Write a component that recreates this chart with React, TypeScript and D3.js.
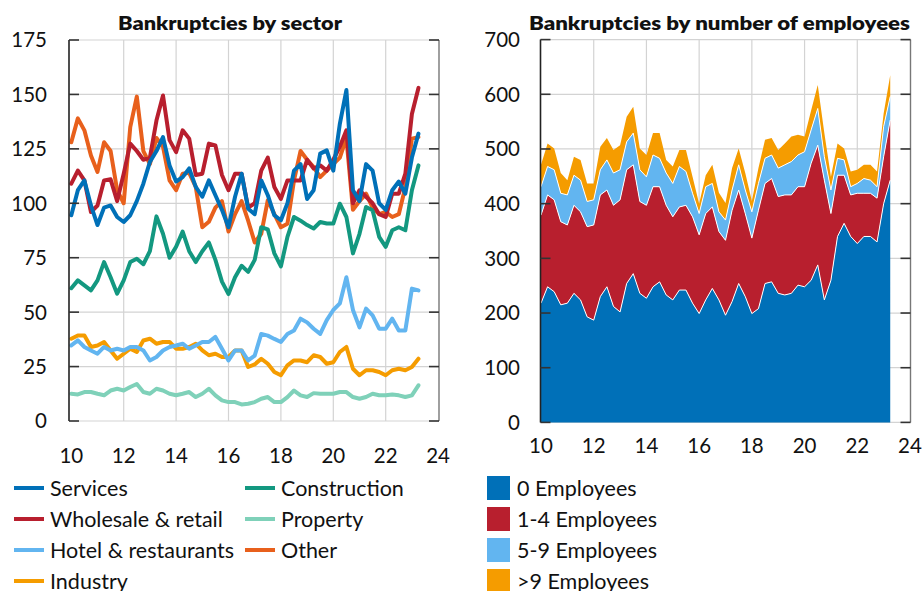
import React from 'react';
import * as d3 from 'd3';

// Quarterly dates (years since 2000)
const quarters = [
  10, 10.25, 10.5, 10.75, 11, 11.25, 11.5, 11.75, 12, 12.25, 12.5, 12.75,
  13, 13.25, 13.5, 13.75, 14, 14.25, 14.5, 14.75, 15, 15.25, 15.5, 15.75,
  16, 16.25, 16.5, 16.75, 17, 17.25, 17.5, 17.75, 18, 18.25, 18.5, 18.75,
  19, 19.25, 19.5, 19.75, 20, 20.25, 20.5, 20.75, 21, 21.25, 21.5, 21.75,
  22, 22.25, 22.5, 22.75, 23, 23.25,
];

// Left chart: bankruptcies by sector
const services = [94.5,106,110.5,99,90,98,99,93.7,91.4,94.5,101,109,119,124,130.4,117.4,110,112,116,107.5,103,110.5,103.7,97,89,103,113.6,97.5,95,110.5,103.7,94.5,92.2,100,115,118,102,106,122.8,124.3,115,136.5,152,106,101,118,115,100,97,106,110,104.4,121,132];
const wholesale = [109,115,110.5,96,99,110.5,111,101,113.6,127.4,124,120,121,138,149.5,129,123.5,133.5,129.7,113,113.6,127.4,126.6,113,106,113.6,113.6,98,100,115,121,107.5,102,110.5,110.5,110.5,120,116,117.4,115,120,126,133.5,100,106,103,100,95,93.7,104.4,104.4,113.6,141,153];
const hotel = [34.7,37,34,32.4,30.9,34,32.4,33.2,32.4,34,34,32.4,27.8,29.4,32.4,34,34.7,35.5,33.2,34.7,36.3,36.3,38.6,33.2,27.8,32.4,32.4,27.8,30,40,39.2,37.7,36.3,40,41.6,47,45.3,42.4,40,46.3,51,54,66,51,43,51.6,48.5,42.4,42.4,47,41.6,41.6,60.8,60];
const industry = [37.8,39.3,39.3,34,34.7,36.3,32.4,28.6,30.9,33.2,31.7,37,37.8,35.5,36.3,36.3,33.2,33.2,34,35.5,32.4,30.2,30.9,29.4,29.4,32.4,32.4,24.8,26,28.6,26.3,22.5,21,25.6,27.8,27.8,27,30.2,29.4,26.3,27,31.7,34,24,21,23.3,23.3,22.5,21,23.3,24,23.3,24.8,28.6];
const construction = [61,64.6,62.3,60,64.6,73,66,58.5,64.6,73,74.5,72,78,94,86,75,80,87,78,73,78,82,74,64,58.3,66,71.3,68.5,74,89,88,77,71,84.6,93.7,92,90,88.4,91.4,90.7,90.7,99.8,93.7,77,86,98.3,96.8,84.6,80,87.6,89,87.6,106,117.4];
const property = [12.5,12.2,13.3,13.3,12.5,11.8,14,14.8,14,15.6,17,13.3,12.5,14.8,14,12.5,11.8,12.5,13.3,11,12.5,14.8,11.8,9.5,8.7,8.7,7.6,7.9,8.7,10.2,11,8.7,8.7,11,14,11.8,11,12.8,12.5,12.5,12.5,13.3,13.3,11,10.2,11,12.5,11.8,11.8,12.2,11.8,11,11.8,16.4];
const other = [128,139,133.5,122,114.4,128,124,106,100,135,149,124,118,130,126,110.5,106,113.6,114,107.5,89,91.5,98,101,87,95,101,92,82,86,101.4,95,89,90.6,110.5,124,120,116.6,112,115,118,121,130,97,101,104.4,98,95,96,93.7,95,107.5,129.7,130.4];

// Right chart: bankruptcies by number of employees
const emp0 = [218,248,239,215,218,236,224,193,187,230,248,212,202,254,272,236,227,248,257,233,224,242,242,218,199,224,245,224,196,221,254,230,199,208,254,257,236,233,236,251,248,260,288,224,260,340,364,340,327,340,340,330,400,443];
const emp1to4 = [161,168,168,152,143,161,161,165,174,186,177,185,205,208,199,168,170,183,174,164,152,152,155,158,144,158,149,125,137,167,171,152,138,180,183,189,177,183,180,180,183,214,219,219,122,112,88,76,92,79,79,80,86,110];
const emp5to9 = [52,52,55,52,55,55,58,46,46,46,55,59,55,51,58,58,52,58,52,59,61,74,62,43,39,49,43,36,37,37,46,43,48,49,46,43,52,55,61,58,64,61,67,43,43,31,28,15,18,27,24,21,55,43];
const empOver9 = [40,42,39,37,27,34,37,33,30,42,40,42,45,46,48,39,40,40,46,24,31,30,39,30,18,21,34,35,31,40,30,31,20,28,34,31,33,39,46,37,28,36,43,43,24,27,21,28,25,25,28,28,24,39];

const xTicks = [10, 12, 14, 16, 18, 20, 22, 24];
const yTicksLeft = [0, 25, 50, 75, 100, 125, 150, 175];
const yTicksRight = [0, 100, 200, 300, 400, 500, 600, 700];

const sectorSeries = [
  { name: 'Services', values: services, color: '#0070b8' },
  { name: 'Wholesale & retail', values: wholesale, color: '#b81f2e' },
  { name: 'Hotel & restaurants', values: hotel, color: '#62b5f0' },
  { name: 'Industry', values: industry, color: '#f59c00' },
  { name: 'Construction', values: construction, color: '#139880' },
  { name: 'Property', values: property, color: '#7fd1b9' },
  { name: 'Other', values: other, color: '#e8601c' },
];

const empSeries = [
  { key: 'e0', name: '0 Employees', values: emp0, color: '#0070b8' },
  { key: 'e1', name: '1-4 Employees', values: emp1to4, color: '#b81f2e' },
  { key: 'e2', name: '5-9 Employees', values: emp5to9, color: '#62b5f0' },
  { key: 'e3', name: '>9 Employees', values: empOver9, color: '#f59c00' },
];

const FONT = "Lato, 'Open Sans', sans-serif";
const GRID = '#d3d3d3';

function Frame({ x, y, xt, yt, x0, x1, y0, y1 }: any) {
  return (
    <g>
      {yt.map((t: number) => (
        <line key={'h' + t} x1={x0} x2={x1} y1={y(t)} y2={y(t)} stroke={GRID} strokeWidth={1.2} />
      ))}
      {xt.filter((t: number) => t > 10 && t < 24).map((t: number) => (
        <line key={'v' + t} x1={x(t)} x2={x(t)} y1={y0} y2={y1} stroke={GRID} strokeWidth={1.2} />
      ))}
    </g>
  );
}

function Axes({ x, y, xt, yt, x0, x1, y0, y1, labelX, xLabelY }: any) {
  return (
    <g fontFamily={FONT} fontSize={20.5} fill="#111">
      <line x1={x0} x2={x0} y1={y0} y2={y1} stroke="#222" strokeWidth={1.6} />
      <line x1={x1} x2={x1} y1={y0} y2={y1} stroke="#777" strokeWidth={1.4} />
      {yt.map((t: number) => (
        <g key={'t' + t}>
          <line x1={x0} x2={x0 + 10} y1={y(t)} y2={y(t)} stroke="#333" strokeWidth={1.6} />
          <line x1={x1 - 10} x2={x1} y1={y(t)} y2={y(t)} stroke="#333" strokeWidth={1.6} />
          <text x={labelX} y={y(t)} dy="0.36em" textAnchor="end">{t}</text>
        </g>
      ))}
      {xt.map((t: number) => (
        <text key={'x' + t} x={x(t)} y={xLabelY} textAnchor="middle">{t}</text>
      ))}
    </g>
  );
}

export default function App() {
  const xL = d3.scaleLinear().domain([10, 24]).range([71.3, 438.1]);
  const yL = d3.scaleLinear().domain([0, 175]).range([421, 40]);
  const xR = d3.scaleLinear().domain([10, 24]).range([541, 910]);
  const yR = d3.scaleLinear().domain([0, 700]).range([422.4, 39.6]);

  const lineGen = (vals: number[]) =>
    d3.line<number>().x((_, i) => xL(quarters[i])).y((d) => yL(d))(vals) || '';

  const rows = quarters.map((q, i) => {
    const r: any = { q };
    empSeries.forEach((s) => (r[s.key] = s.values[i]));
    return r;
  });
  const stacked = d3.stack<any>().keys(empSeries.map((s) => s.key))(rows);
  const areaGen = d3
    .area<any>()
    .x((d) => xR(d.data.q))
    .y0((d) => yR(d[0]))
    .y1((d) => yR(d[1]));
  const topGen = d3
    .line<any>()
    .x((d) => xR(d.data.q))
    .y((d) => yR(d[1]));

  const leftLegend = [
    [sectorSeries[0], 14, 488],
    [sectorSeries[1], 14, 519],
    [sectorSeries[2], 14, 550],
    [sectorSeries[3], 14, 581],
    [sectorSeries[4], 245, 488],
    [sectorSeries[5], 245, 519],
    [sectorSeries[6], 245, 550],
  ] as any[];

  const drawOrder = [...sectorSeries].reverse();

  return (
    <svg
      width={922}
      height={591}
      style={{ position: 'absolute', left: 0, top: 0, background: '#fff' }}
    >
      <rect x={0} y={0} width={922} height={591} fill="#fff" />
      {/* Left chart */}
      <text x={118} y={29.5} textLength={224} lengthAdjust="spacingAndGlyphs" fontFamily={FONT} fontWeight={800} fontSize={19.5} fill="#111">
        Bankruptcies by sector
      </text>
      <Frame x={xL} y={yL} xt={xTicks} yt={yTicksLeft} x0={69} x1={439} y0={40} y1={421} />
      <g fill="none" strokeWidth={4} strokeLinejoin="round" strokeLinecap="round">
        {drawOrder.map((s) => (
          <path key={s.name} d={lineGen(s.values)} stroke={s.color} />
        ))}
      </g>
      <Axes x={xL} y={yL} xt={xTicks} yt={yTicksLeft} x0={69} x1={439} y0={40} y1={421} labelX={47} xLabelY={463} />

      {/* Right chart */}
      <text x={529} y={29.5} textLength={381} lengthAdjust="spacingAndGlyphs" fontFamily={FONT} fontWeight={800} fontSize={19.5} fill="#111">
        Bankruptcies by number of employees
      </text>
      <Frame x={xR} y={yR} xt={xTicks} yt={yTicksRight} x0={540.5} x1={910.5} y0={39.6} y1={422.4} />
      <g>
        {stacked.map((layer, i) => (
          <path key={layer.key} d={areaGen(layer) || ''} fill={empSeries[i].color} />
        ))}
        {stacked.slice(0, 3).map((layer) => (
          <path key={'s' + layer.key} d={topGen(layer) || ''} fill="none" stroke="#fff" strokeWidth={1} />
        ))}
      </g>
      <Axes x={xR} y={yR} xt={xTicks} yt={yTicksRight} x0={540.5} x1={910.5} y0={39.6} y1={422.4} labelX={520} xLabelY={453} />

      {/* Left legend */}
      <g fontFamily={FONT} fontSize={21.5} fill="#111">
        {leftLegend.map(([s, lx, ly]) => (
          <g key={s.name}>
            <line x1={lx} x2={lx + 30} y1={ly} y2={ly} stroke={s.color} strokeWidth={4} />
            <text x={lx + 36} y={ly + 7.5}>{s.name}</text>
          </g>
        ))}
      </g>
      {/* Right legend */}
      <g fontFamily={FONT} fontSize={21.5} fill="#111">
        {empSeries.map((s, i) => (
          <g key={s.key}>
            <rect x={487} y={476 + i * 31} width={23} height={24} fill={s.color} />
            <text x={517} y={495.5 + i * 31}>{s.name}</text>
          </g>
        ))}
      </g>
    </svg>
  );
}
